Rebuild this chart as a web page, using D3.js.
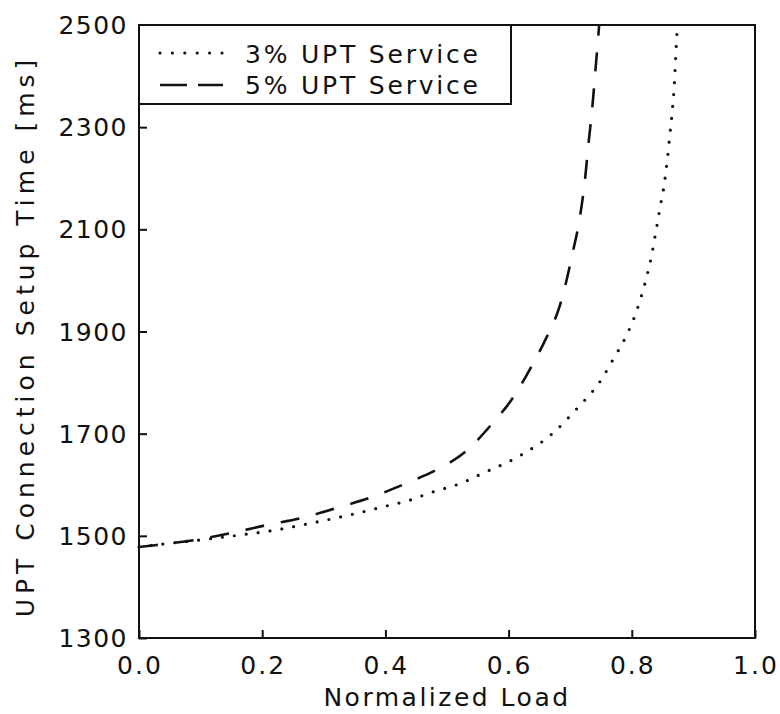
<!DOCTYPE html>
<html>
<head>
<meta charset="utf-8">
<script src="https://cdn.jsdelivr.net/npm/d3@7"></script>
<style>
  body { margin: 0; background: #fff; }
  text { font-family: "DejaVu Sans", sans-serif; fill: #111; }
</style>
</head>
<body>
<svg id="chart" width="780" height="714"></svg>
<script>
// values
var loadDotted = [0, 0.04, 0.10, 0.16, 0.22, 0.28, 0.32, 0.36, 0.40, 0.44, 0.472, 0.529, 0.55, 0.62, 0.67, 0.71, 0.75, 0.77, 0.79, 0.806, 0.823, 0.832, 0.839, 0.846, 0.853, 0.858, 0.862, 0.866, 0.869, 0.871, 0.873, 0.874];
var timeDotted = [1478, 1484, 1492, 1501, 1511, 1525, 1535, 1546, 1558, 1570, 1584, 1606, 1618, 1658, 1699, 1748, 1805, 1846, 1889, 1934, 2002, 2048, 2095, 2143, 2191, 2240, 2288, 2336, 2383, 2430, 2479, 2500];

var loadDashed = [0, 0.029, 0.091, 0.148, 0.207, 0.267, 0.325, 0.385, 0.440, 0.478, 0.535, 0.570, 0.608, 0.640, 0.661, 0.683, 0.692, 0.704, 0.716, 0.724, 0.730, 0.736, 0.741, 0.746, 0.747];
var timeDashed = [1478, 1482, 1492, 1505, 1521, 1536, 1556, 1579, 1606, 1626, 1670, 1715, 1772, 1838, 1887, 1950, 1990, 2054, 2126, 2197, 2271, 2340, 2412, 2484, 2500];

var xTicks = [0, 0.2, 0.4, 0.6, 0.8, 1.0];
var yTicks = [1300, 1500, 1700, 1900, 2100, 2300, 2500];
var seriesNames = ["3% UPT Service", "5% UPT Service"];

var svg = d3.select("#chart");
var plotLeft = 139, plotRight = 755, plotTop = 25, plotBottom = 638;

var x = d3.scaleLinear().domain([0, 1]).range([plotLeft, plotRight]);
var y = d3.scaleLinear().domain([1300, 2500]).range([plotBottom, plotTop]);

// axes, ticks point inward
var xAxis = d3.axisTop(x).tickValues(xTicks).tickSize(8).tickFormat("");
svg.append("g").attr("transform", "translate(0," + plotBottom + ")").call(xAxis)
  .call(g => g.select(".domain").remove())
  .selectAll("line").attr("stroke", "#111").attr("stroke-width", 2);

var yAxis = d3.axisRight(y).tickValues(yTicks).tickSize(8).tickFormat("");
svg.append("g").attr("transform", "translate(" + plotLeft + ",0)").call(yAxis)
  .call(g => g.select(".domain").remove())
  .selectAll("line").attr("stroke", "#111").attr("stroke-width", 2);

// tick labels
svg.append("g").selectAll("text").data(xTicks).join("text")
  .attr("x", d => x(d) + 1).attr("y", plotBottom + 36)
  .attr("text-anchor", "middle").attr("font-size", 25).attr("letter-spacing", 2)
  .text(d => d3.format(".1f")(d));

svg.append("g").selectAll("text").data(yTicks).join("text")
  .attr("x", plotLeft - 11).attr("y", d => y(d) + 9)
  .attr("text-anchor", "end").attr("font-size", 25).attr("letter-spacing", 1.5)
  .text(d => d);

// axis titles
svg.append("text").attr("x", (plotLeft + plotRight) / 2).attr("y", 706)
  .attr("text-anchor", "middle").attr("font-size", 25)
  .attr("letter-spacing", 2.5)
  .text("Normalized Load");

svg.append("text").attr("transform", "translate(34,336) rotate(-90)")
  .attr("text-anchor", "middle").attr("font-size", 25)
  .attr("letter-spacing", 5)
  .text("UPT Connection Setup Time [ms]");

// curves
var line = d3.line().x(d => x(d[0])).y(d => y(d[1])).curve(d3.curveMonotoneX);

var dotted = loadDotted.map((v, i) => [v, timeDotted[i]]);
var dashed = loadDashed.map((v, i) => [v, timeDashed[i]]);

svg.append("path").datum(dotted).attr("d", line)
  .attr("fill", "none").attr("stroke", "#111").attr("stroke-width", 3.2)
  .attr("stroke-linecap", "round").attr("stroke-dasharray", "0 12");

svg.append("path").datum(dashed).attr("d", line)
  .attr("fill", "none").attr("stroke", "#111").attr("stroke-width", 2.6)
  .attr("stroke-dasharray", "19 17");

// legend
var legend = svg.append("g");
legend.append("rect").attr("x", plotLeft).attr("y", plotTop).attr("width", 372).attr("height", 79)
  .attr("fill", "#fff").attr("stroke", "#111").attr("stroke-width", 2);

legend.append("line").attr("x1", 160).attr("x2", 223).attr("y1", 53).attr("y2", 53)
  .attr("stroke", "#111").attr("stroke-width", 3.2).attr("stroke-linecap", "round")
  .attr("stroke-dasharray", "0 12.4");
legend.append("line").attr("x1", 160).attr("x2", 223).attr("y1", 85).attr("y2", 85)
  .attr("stroke", "#111").attr("stroke-width", 2.6).attr("stroke-dasharray", "27 11");

legend.selectAll("text.lab").data(seriesNames).join("text")
  .attr("class", "lab")
  .attr("x", 245).attr("y", (d, i) => 63 + i * 31)
  .attr("font-size", 25).attr("letter-spacing", 2.8)
  .text(d => d);

// frame
svg.append("rect").attr("x", plotLeft).attr("y", plotTop)
  .attr("width", plotRight - plotLeft).attr("height", plotBottom - plotTop)
  .attr("fill", "none").attr("stroke", "#111").attr("stroke-width", 2);
</script>
</body>
</html>
